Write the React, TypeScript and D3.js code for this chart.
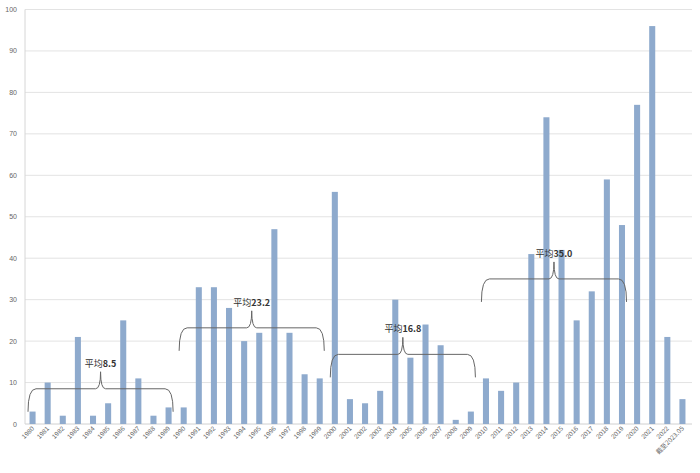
import React from "react";
import * as d3 from "d3";

const years: string[] = [
  "1980","1981","1982","1983","1984","1985","1986","1987","1988","1989",
  "1990","1991","1992","1993","1994","1995","1996","1997","1998","1999",
  "2000","2001","2002","2003","2004","2005","2006","2007","2008","2009",
  "2010","2011","2012","2013","2014","2015","2016","2017","2018","2019",
  "2020","2021","2022","截至2023.05",
];
const values: number[] = [
  3, 10, 2, 21, 2, 5, 25, 11, 2, 4,
  4, 33, 33, 28, 20, 22, 47, 22, 12, 11,
  56, 6, 5, 8, 30, 16, 24, 19, 1, 3,
  11, 8, 10, 41, 74, 42, 25, 32, 59, 48,
  77, 96, 21, 6,
];
const yTicks: number[] = [0, 10, 20, 30, 40, 50, 60, 70, 80, 90, 100];
const groupStart: number[] = [0, 10, 20, 30];
const groupEnd: number[] = [9, 19, 29, 39];
const groupAvgLabel: string[] = ["8.5", "23.2", "16.8", "35.0"];
const groupAvgValue: number[] = [8.5, 23.2, 16.8, 35.0];

export default function App() {
  const W = 700, H = 473;
  const x = d3.scaleBand<string>().domain(years).range([25, 690]).padding(0);
  const y = d3.scaleLinear().domain([0, 100]).range([424, 9.5]);
  const bw = x.bandwidth();
  const barW = bw * 0.4;
  const gridRight = 692;
  const font = "'Liberation Sans', Arial, sans-serif";
  const cjk = "'Noto Sans CJK SC', 'Liberation Sans', sans-serif";

  const braces = groupStart.map((s, i) => {
    const x0 = (x(years[s]) as number) + 3;
    const x1 = (x(years[groupEnd[i]]) as number) + bw - 3;
    const xc = (x0 + x1) / 2;
    const yh = y(groupAvgValue[i]);
    const down = 23, up = 17;
    const p = d3.path();
    p.moveTo(x0, yh + down);
    p.quadraticCurveTo(x0, yh, x0 + 8, yh);
    p.lineTo(xc - 5, yh);
    p.quadraticCurveTo(xc, yh, xc, yh - up);
    p.quadraticCurveTo(xc, yh, xc + 5, yh);
    p.lineTo(x1 - 8, yh);
    p.quadraticCurveTo(x1, yh, x1, yh + down);
    return { d: p.toString(), xc, ty: yh - up - 8, label: groupAvgLabel[i] };
  });

  return (
    <svg
      width={W}
      height={H}
      style={{ position: "absolute", left: 0, top: 0, background: "#ffffff" }}
    >
      <rect x={0} y={0} width={W} height={H} fill="#ffffff" />
      {yTicks.map((t) => (
        <g key={t}>
          <line
            x1={25}
            x2={gridRight}
            y1={y(t)}
            y2={y(t)}
            stroke={t === 0 ? "#d0d0d0" : "#e3e3e3"}
            strokeWidth={1}
          />
          <text
            x={17}
            y={y(t) + 2.5}
            textAnchor="end"
            fontSize={7}
            fill="#666"
            fontFamily={font}
          >
            {t}
          </text>
        </g>
      ))}
      <line x1={25} x2={25} y1={y(100)} y2={y(0)} stroke="#d6d6d6" strokeWidth={1} />
      {values.map((v, i) => {
        const cx = (x(years[i]) as number) + bw / 2;
        return (
          <rect
            key={years[i]}
            x={cx - barW / 2}
            y={y(v)}
            width={barW}
            height={y(0) - y(v)}
            fill="#8eaacd"
          />
        );
      })}
      {years.map((yr) => {
        const cx = (x(yr) as number) + bw / 2 + 2;
        const ty = 429;
        return (
          <text
            key={yr}
            x={cx}
            y={ty}
            transform={`rotate(-45, ${cx}, ${ty})`}
            textAnchor="end"
            fontSize={6.5}
            fill="#666"
            fontFamily={yr.length > 4 ? cjk : font}
          >
            {yr}
          </text>
        );
      })}
      {braces.map((b, i) => (
        <g key={i}>
          <path d={b.d} fill="none" stroke="#666" strokeWidth={1} />
          <text
            x={b.xc}
            y={b.ty + 3}
            textAnchor="middle"
            fontSize={9}
            fill="#333"
            fontFamily={cjk}
          >
            平均<tspan fontWeight="bold">{b.label}</tspan>
          </text>
        </g>
      ))}
    </svg>
  );
}
